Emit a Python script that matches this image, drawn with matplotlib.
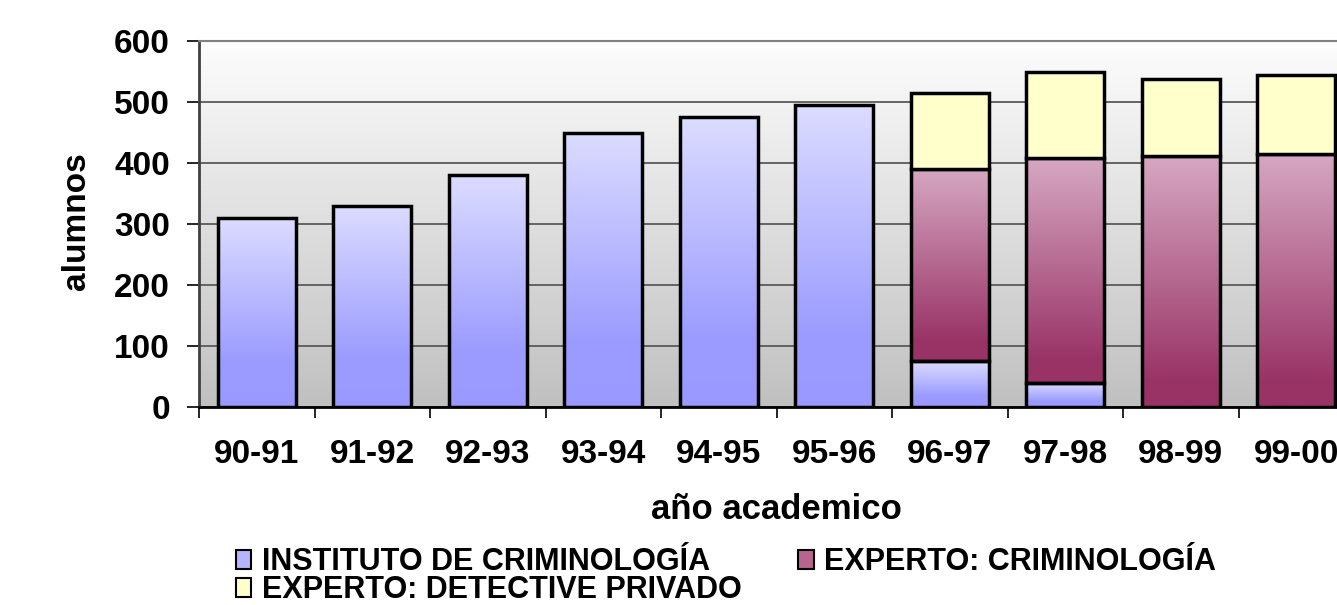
import numpy as np
import matplotlib
matplotlib.use('Agg')
import matplotlib.pyplot as plt
from matplotlib.colors import LinearSegmentedColormap
from matplotlib.patches import Patch

plt.rcParams['font.family'] = ['Liberation Sans', 'DejaVu Sans']
plt.rcParams['font.weight'] = 'bold'

years = ['90-91', '91-92', '92-93', '93-94', '94-95', '95-96', '96-97', '97-98', '98-99', '99-00']
instituto = [310, 330, 380, 450, 475, 495, 75, 40, 0, 0]
criminologia = [0, 0, 0, 0, 0, 0, 315, 368, 412, 415]
detective = [0, 0, 0, 0, 0, 0, 125, 142, 125, 129]
labels = ['INSTITUTO DE CRIMINOLOGÍA', 'EXPERTO: CRIMINOLOGÍA', 'EXPERTO: DETECTIVE PRIVADO']

blue_cmap = LinearSegmentedColormap.from_list('b', [(0, '#9999ff'), (0.25, '#9c9cff'), (1, '#dcdcff')])
mag_cmap = LinearSegmentedColormap.from_list('m', [(0, '#993366'), (0.1, '#993366'), (1, '#d6a8c2')])
bg_cmap = LinearSegmentedColormap.from_list('g', [(0, '#c0c0c0'), (1, '#fdfdfd')])
grad = np.linspace(0, 1, 256).reshape(-1, 1)

fig = plt.figure(figsize=(13.37, 6.05), dpi=100)
ax = fig.add_axes([199 / 1337, 198 / 605, 1155 / 1337, 366 / 605])

# background gradient
ax.imshow(grad, cmap=bg_cmap, origin='lower', extent=[0, 1, 0, 1],
          transform=ax.transAxes, aspect='auto', zorder=0)

x = np.arange(len(years))
w = 0.675
inst = np.array(instituto)
crim = np.array(criminologia)
det = np.array(detective)


def grad_bars(bars, cmap):
    for b in bars:
        if b.get_height() <= 0:
            continue
        x0, y0 = b.get_x(), b.get_y()
        im = ax.imshow(grad, cmap=cmap, origin='lower', aspect='auto',
                       extent=[x0, x0 + b.get_width(), y0, y0 + b.get_height()],
                       zorder=2)
        im.set_clip_path(b)


kw = dict(width=w, edgecolor='black', linewidth=2.5, zorder=3)
b1 = ax.bar(x, inst, facecolor='none', **kw)
b2 = ax.bar(x, crim, bottom=inst, facecolor='none', **kw)
b3 = ax.bar(x, det, bottom=inst + crim, facecolor='#ffffcc', **kw)
for bars in (b1, b2, b3):
    for b in bars:
        if b.get_height() <= 0:
            b.set_visible(False)
grad_bars(b1, blue_cmap)
grad_bars(b2, mag_cmap)

ax.set_xlim(-0.5, len(years) - 0.5)
ax.set_ylim(0, 600)
ax.set_yticks(range(0, 601, 100))
ax.yaxis.grid(True, color='#5a5a5a', linewidth=1.3)
ax.set_axisbelow(True)
for gl in ax.get_ygridlines():
    gl.set_zorder(1)

ax.set_xticks(x)
ax.set_xticklabels(years)
ax.set_xticks(np.arange(-0.5, len(years)), minor=True)
ax.tick_params(axis='x', which='major', length=0, pad=23, labelsize=24)
ax.tick_params(axis='x', which='minor', length=8, width=1.2, direction='out')
ax.tick_params(axis='y', length=9, width=1.2, pad=12, labelsize=24)

ax.spines['top'].set_color('#808080')
ax.spines['top'].set_linewidth(1.5)
ax.spines['right'].set_visible(False)
ax.spines['left'].set_color('#404040')
ax.spines['left'].set_linewidth(2)
ax.spines['bottom'].set_linewidth(2)

ax.set_xlabel('año academico', fontsize=25, fontweight='bold')
ax.xaxis.set_label_coords(0.5, -0.235)
ax.set_ylabel('alumnos', fontsize=24, fontweight='bold')
ax.yaxis.set_label_coords(-0.093, 0.507)

handles = [Patch(facecolor='#b4b4ff', edgecolor='black', linewidth=1.5),
           Patch(facecolor='#ffffcc', edgecolor='black', linewidth=1.5),
           Patch(facecolor='#b8648c', edgecolor='black', linewidth=1.5)]
fig.legend(handles, [labels[0], labels[2], labels[1]], ncol=2,
           loc='upper left', bbox_to_anchor=(236 / 1337, 1 - 547 / 605),
           frameon=False, prop={'weight': 'bold', 'size': 22},
           handlelength=0.5, handleheight=0.6, handletextpad=0.35,
           columnspacing=1.85, labelspacing=-0.06, borderpad=0, borderaxespad=0)

fig.savefig('out.png', dpi=100)
